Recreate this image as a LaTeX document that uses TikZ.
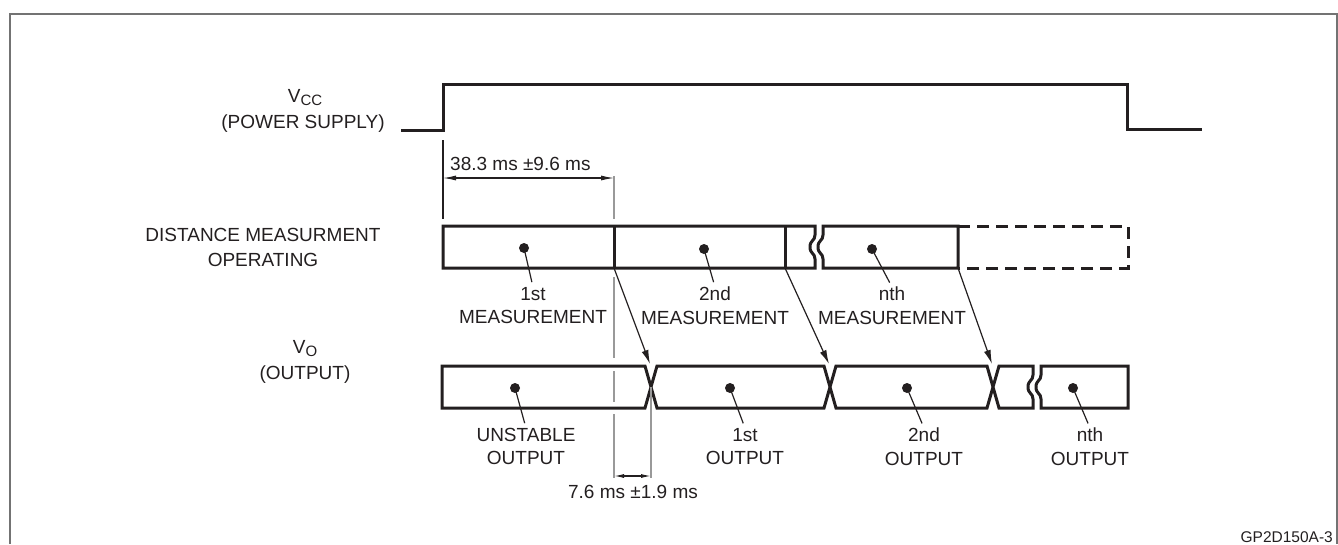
\documentclass[tikz,border=0pt]{standalone}
\usepackage{fontspec}
\setmainfont{Liberation Sans}
\usetikzlibrary{positioning,arrows.meta}
\definecolor{ink}{HTML}{231F20}

\begin{document}
\begin{tikzpicture}[x=1pt, y=-1pt,
	sig/.style={line width=3pt, draw=ink},
	txt/.style={font=\fontsize{19}{23.5}\selectfont, text=ink, align=center, inner sep=0pt},
	dot/.style={circle, fill=ink, minimum size=10pt, inner sep=0pt},
	leader/.style={line width=1.2pt, draw=ink, shorten >=5pt},
	flow/.style={line width=1.2pt, draw=ink, -{Latex[length=14pt,width=7pt]}},
	dim/.style={line width=1.1pt, draw=ink, {Latex[length=13pt,width=5pt]}-{Latex[length=13pt,width=5pt]}},
	ext/.style={line width=1.6pt, draw=black!40},
]

\useasboundingbox (0,0) rectangle (1338,544);

\newcommand\mTop{226}
\newcommand\mBot{268}
\newcommand\oTop{366}
\newcommand\oBot{408}
\newcommand\sub[1]{\raisebox{-3pt}{\fontsize{15}{15}\selectfont #1}}
\newcommand\wavebreak[3]{-- ({#1},{#2+9}) .. controls ({#1},{#2+15}) and ({#1-5},{#2+14}) .. ({#1-5},{(#2+#3)/2}) .. controls ({#1-5},{#3-14}) and ({#1},{#3-15}) .. ({#1},{#3-9}) -- ({#1},{#3})}

% Frame
\draw[black!55, line width=1.6pt] (10,544) -- (10,14) -- (1337,14) -- (1337,544);

% Power supply
\node[txt, anchor=base] (vcc_label) at (305,102) {V\sub{CC}};
\node[txt, anchor=base] (psu_label) at (303,128) {(POWER SUPPLY)};
\draw[sig] (401,130) -- (443,130) -- (443,84) -- (1127,84) -- (1127,129) -- (1202,129);

% Distance measurement operating
\node[txt, anchor=north] (dist_label) at (263,228) {DISTANCE MEASURMENT\\[1.5pt]OPERATING};
\draw[sig] (443,\mBot) -- (443,\mTop) -- (815,\mTop) \wavebreak{815}{\mTop}{\mBot} -- cycle;
\draw[sig] (614,\mTop) -- (614,\mBot);
\draw[sig] (785,\mTop) -- (785,\mBot);
\draw[sig] (958,\mBot) -- (958,\mTop) -- (823,\mTop) \wavebreak{823}{\mTop}{\mBot} -- cycle;
\draw[sig, dash pattern=on 12pt off 7pt] (958,\mTop) -- (1128,\mTop) -- (1128,\mBot) -- (958,\mBot);

% Output
\node[txt, anchor=base] (vo_label) at (305,353) {V\sub{O}};
\node[txt, anchor=base] (out_label) at (305,379) {(OUTPUT)};
\draw[sig] (1033,\oBot) -- (999,\oBot) -- (987,\oTop) -- (836,\oTop) -- (824,\oBot) -- (657,\oBot) -- (645,\oTop) -- (442,\oTop)
	-- (442,\oBot) -- (645,\oBot) -- (657,\oTop) -- (824,\oTop) -- (836,\oBot) -- (987,\oBot) -- (999,\oTop) -- (1033,\oTop)
	\wavebreak{1033}{\oTop}{\oBot} -- cycle;
\draw[sig] (1128,\oBot) -- (1128,\oTop) -- (1041,\oTop) \wavebreak{1041}{\oTop}{\oBot} -- cycle;

% Measurement dots and labels
\node[dot] (m1_dot) at (524,248) {};
\node[dot] (m2_dot) at (704,249) {};
\node[dot] (mn_dot) at (872,249) {};
\node[txt, anchor=north] (m1_label) at (533,287) {1st\\MEASUREMENT};
\node[txt, anchor=north] (m2_label) at (715,287) {2nd\\MEASUREMENT};
\node[txt, anchor=north] (mn_label) at (892,287) {nth\\MEASUREMENT};
\draw[leader] (m1_dot.center) -- (m1_label.north);
\draw[leader] (m2_dot.center) -- (m2_label.north);
\draw[leader] (mn_dot.center) -- (mn_label.north);

% Output dots and labels
\node[dot] (o0_dot) at (515,388) {};
\node[dot] (o1_dot) at (730,388) {};
\node[dot] (o2_dot) at (907,388) {};
\node[dot] (on_dot) at (1073,388) {};
\node[txt, anchor=north] (o0_label) at (526,428) {UNSTABLE\\OUTPUT};
\node[txt, anchor=north] (o1_label) at (745,428) {1st\\OUTPUT};
\node[txt, anchor=north] (o2_label) at (924,428) {2nd\\OUTPUT};
\node[txt, anchor=north] (on_label) at (1090,428) {nth\\OUTPUT};
\draw[leader] (o0_dot.center) -- (o0_label.north);
\draw[leader] (o1_dot.center) -- (o1_label.north);
\draw[leader] (o2_dot.center) -- (o2_label.north);
\draw[leader] (on_dot.center) -- (on_label.north);

% Measurement -> output
\coordinate (m1_end) at (614,\mBot);
\coordinate (m2_end) at (785,\mBot);
\coordinate (mn_end) at (958,\mBot);
\coordinate (o1_cross) at (650,364);
\coordinate (o2_cross) at (829,364);
\coordinate (on_cross) at (992,364);
\draw[flow] (m1_end) -- (o1_cross);
\draw[flow] (m2_end) -- (o2_cross);
\draw[flow] (mn_end) -- (on_cross);

% Timing 38.3 ms
\coordinate (vcc_on) at (443,140);
\coordinate (vcc_on_foot) at (443,219);
\coordinate (t1_left) at (443,178);
\coordinate (t1_right) at (614,178);
\draw[line width=1.1pt, ink] (vcc_on) -- (vcc_on_foot);
\draw[ext] (614,176) -- (614,219) (614,277) -- (614,358) (614,371) -- (614,402) (614,414) -- (614,478);
\draw[dim] (t1_left) -- (t1_right);
\node[txt, anchor=base west] (t1_text) at (450,170) {38.3 ms ±9.6 ms};

% Timing 7.6 ms
\coordinate (out_valid) at (651,387);
\coordinate (out_valid_foot) at (651,478);
\coordinate (t2_left) at (614,476);
\coordinate (t2_right) at (651,476);
\draw[ext] (out_valid) -- (out_valid_foot);
\draw[line width=1.1pt, ink, {Latex[length=10pt,width=4pt]}-{Latex[length=10pt,width=4pt]}] (t2_left) -- (t2_right);
\node[txt, anchor=base] (t2_text) at (633,498) {7.6 ms ±1.9 ms};

% Figure id
\node[font=\fontsize{15.5}{18}\selectfont, text=ink, anchor=base east, inner sep=0pt] (fig_id) at (1333,542) {GP2D150A-3};

\end{tikzpicture}
\end{document}
